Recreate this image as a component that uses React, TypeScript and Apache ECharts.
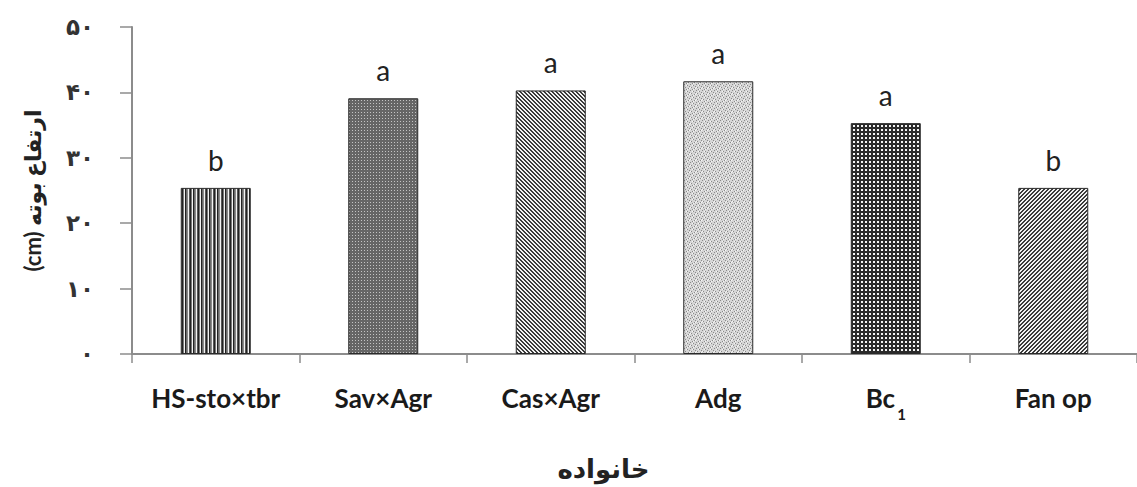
import React, { useEffect, useRef } from "react";
import * as echarts from "echarts";

const categories = ["HS-sto×tbr", "Sav×Agr", "Cas×Agr", "Adg", "Bc1", "Fan op"];
const values = [25.4, 39.1, 40.3, 41.7, 35.3, 25.4];
const letters = ["b", "a", "a", "a", "a", "b"];
const yTickLabels = ["۰", "۱۰", "۲۰", "۳۰", "۴۰", "۵۰"];
const yAxisTitle = "(cm) ارتفاع بوته";
const xAxisTitle = "خانواده";

function makeTile(w: number, h: number, fn: (x: number, y: number) => string) {
  const c = document.createElement("canvas");
  c.width = w;
  c.height = h;
  const ctx = c.getContext("2d")!;
  for (let y = 0; y < h; y++) {
    for (let x = 0; x < w; x++) {
      ctx.fillStyle = fn(x, y);
      ctx.fillRect(x, y, 1, 1);
    }
  }
  return { image: c, repeat: "repeat", imageWidth: w, imageHeight: h } as any;
}

function buildPatterns() {
  const stripeCols = ["#f2f2f2", "#222", "#6a6a6a", "#8a8a8a", "#f2f2f2", "#555", "#222", "#777"];
  const p1 = makeTile(8, 4, (x) => stripeCols[x % 8]);
  const p2 = makeTile(3, 3, (x, y) => (x === 1 && y === 1 ? "#c4c4c4" : "#666666"));
  const p3 = makeTile(4, 4, (x, y) => ((((x - y) % 4) + 4) % 4 < 2 ? "#3a3a3a" : "#f2f2f2"));
  const speck = new Set(["0,0", "3,1", "1,3", "4,4", "2,5", "5,2"]);
  const light = new Set(["2,1", "5,4", "0,3", "3,5"]);
  const p4 = makeTile(6, 6, (x, y) =>
    speck.has(x + "," + y) ? "#8a8a8a" : light.has(x + "," + y) ? "#f6f6f6" : "#d6d6d6"
  );
  const p5 = makeTile(4, 4, (x, y) => (x >= 1 && x <= 2 && y >= 1 && y <= 2 ? "#f4f4f4" : "#2a2a2a"));
  const p6 = makeTile(4, 4, (x, y) => ((x + y) % 4 < 2 ? "#3a3a3a" : "#f2f2f2"));
  return [p1, p2, p3, p4, p5, p6];
}

export default function App() {
  const ref = useRef<HTMLDivElement>(null);
  useEffect(() => {
    if (!ref.current) return;
    const chart = echarts.init(ref.current, undefined, { renderer: "svg" });
    const patterns = buildPatterns();
    const axisColor = "#8c8c8c";
    const latin = "Lato, 'DejaVu Sans', sans-serif";
    chart.setOption({
      animation: false,
      backgroundColor: "#ffffff",
      grid: { left: 132, right: -7, top: 27, bottom: 129, containLabel: false },
      xAxis: {
        type: "category",
        data: categories,
        name: xAxisTitle,
        nameLocation: "middle",
        nameGap: 102,
        nameTextStyle: {
          fontFamily: "'DejaVu Sans', sans-serif",
          fontWeight: "bold",
          fontSize: 26,
          color: "#222",
          padding: [0, 62, 0, 0],
        },
        axisLine: { show: true, lineStyle: { color: axisColor, width: 2 } },
        axisTick: { show: true, length: 9, lineStyle: { color: axisColor, width: 1.5 } },
        axisLabel: {
          margin: 31,
          formatter: (v: string) => (v === "Bc1" ? "{m|Bc}{s|1}" : "{m|" + v + "}"),
          rich: {
            m: {
              fontFamily: latin,
              fontWeight: "bold",
              fontSize: 26,
              lineHeight: 26,
              color: "#1a1a1a",
              verticalAlign: "top",
            },
            s: {
              fontFamily: latin,
              fontWeight: "bold",
              fontSize: 15,
              lineHeight: 36,
              padding: [0, 0, 0, 2],
              color: "#1a1a1a",
              verticalAlign: "bottom",
            },
          },
        },
      },
      yAxis: {
        type: "value",
        min: 0,
        max: 50,
        interval: 10,
        name: yAxisTitle,
        nameLocation: "middle",
        nameGap: 89,
        nameRotate: 90,
        nameTextStyle: {
          fontFamily: latin,
          fontWeight: "bold",
          fontSize: 22,
          color: "#222",
        },
        splitLine: { show: false },
        axisLine: { show: true, lineStyle: { color: axisColor, width: 2 } },
        axisTick: { show: true, length: 12, lineStyle: { color: axisColor, width: 1.5 } },
        axisLabel: {
          margin: 38,
          fontFamily: "'DejaVu Sans', sans-serif",
          fontWeight: "bold",
          fontSize: 23,
          color: "#333",
          formatter: (v: number) => yTickLabels[Math.round(v / 10)] ?? "",
        },
      },
      series: [
        {
          type: "bar",
          barWidth: 70,
          data: values.map((v, i) => ({
            value: v,
            itemStyle: { color: patterns[i] },
            label: { formatter: letters[i] },
          })),
          itemStyle: { borderColor: "#2a2a2a", borderWidth: 1 },
          label: {
            show: true,
            position: "top",
            distance: 14,
            fontFamily: latin,
            fontSize: 28,
            color: "#222",
          },
        },
      ],
    });
    return () => chart.dispose();
  }, []);
  return (
    <div
      ref={ref}
      style={{ position: "fixed", left: 0, top: 0, width: 1137, height: 487, background: "#fff" }}
    />
  );
}
